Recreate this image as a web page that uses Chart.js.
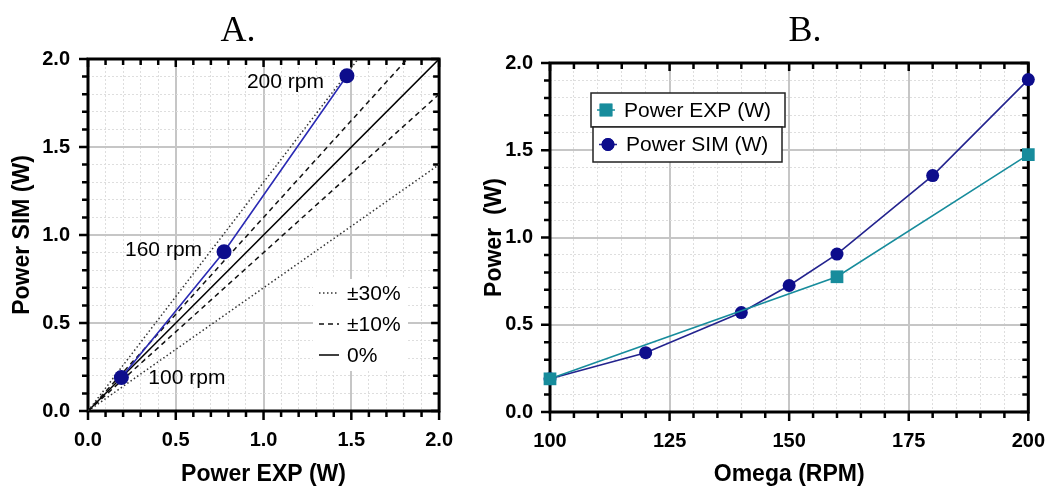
<!DOCTYPE html>
<html>
<head>
<meta charset="utf-8">
<script src="https://cdn.jsdelivr.net/npm/chart.js@4.4.0/dist/chart.umd.min.js"></script>
<style>
  body { margin: 0; background: #fff; overflow: hidden; }
  #wrap { position: relative; width: 1046px; height: 486px; overflow: hidden; }
  #chartA { position: absolute; left: 0; top: 0; }
  #chartB { position: absolute; left: 470px; top: 0; }
</style>
</head>
<body>
<div id="wrap">
  <canvas id="chartA" width="470" height="486"></canvas>
  <canvas id="chartB" width="592" height="486"></canvas>
</div>
<script>
// Data
const rpmExp = [100, 160, 200];
const powerExp = [0.19, 0.775, 1.475];
const rpmSim = [100, 120, 140, 150, 160, 180, 200];
const powerSim = [0.19, 0.34, 0.57, 0.725, 0.905, 1.355, 1.905];
const rpmLabels = ['100 rpm', '160 rpm', '200 rpm'];

// Reference lines in panel A: end points at x = 0 and x = 2
const refX = [0, 2];
const refPlus30 = [0, 2.6];
const refMinus30 = [0, 1.4];
const refPlus10 = [0, 2.2];
const refMinus10 = [0, 1.8];
const refZero = [0, 2];

const simBlue = '#0d0d8c';
const lineBlue = '#2a2ab4';
const expTeal = '#178c9c';

Chart.defaults.font.family = "'Liberation Sans', Arial, sans-serif";
Chart.defaults.color = '#000';

const isMajor = (v, step) => Math.abs(v / step - Math.round(v / step)) < 1e-6;
const toPts = (xs, ys) => xs.map((x, i) => ({ x: x, y: ys[i] }));

function gridOpts(step) {
  return {
    drawTicks: false,
    color: c => (c.tick && isMajor(c.tick.value, step)) ? '#c6c6c6' : '#dedede',
    lineWidth: c => (c.tick && isMajor(c.tick.value, step)) ? 2 : 1
  };
}
function borderOpts(step) {
  return { display: false, dash: c => (c.tick && isMajor(c.tick.value, step)) ? [] : [2, 2] };
}

// Frame + tick marks (inward on top/right, outward on bottom/left)
const framePlugin = {
  id: 'frame',
  beforeDatasetsDraw(chart, args, opts) {
    const { ctx, chartArea: a, scales: { x, y } } = chart;
    ctx.save();
    ctx.strokeStyle = '#000';
    ctx.lineWidth = 2.5;
    ctx.beginPath();
    x.ticks.forEach(t => {
      const px = x.getPixelForValue(t.value);
      const big = isMajor(t.value, opts.xMajor);
      ctx.moveTo(px, a.bottom); ctx.lineTo(px, a.bottom + (big ? 9 : 6));
      ctx.moveTo(px, a.top); ctx.lineTo(px, a.top + (big ? 8 : 6));
    });
    y.ticks.forEach(t => {
      const py = y.getPixelForValue(t.value);
      const big = isMajor(t.value, opts.yMajor);
      ctx.moveTo(a.left, py); ctx.lineTo(a.left - (big ? 9 : 6), py);
      ctx.moveTo(a.right, py); ctx.lineTo(a.right - (big ? 8 : 6), py);
    });
    ctx.stroke();
    ctx.lineWidth = 3;
    ctx.strokeRect(a.left, a.top, a.right - a.left, a.bottom - a.top);
    ctx.restore();
  }
};

// Panel letter above each plot
const panelTitlePlugin = {
  id: 'panelTitle',
  afterDraw(chart, args, opts) {
    const ctx = chart.ctx;
    ctx.save();
    ctx.font = "36px 'Liberation Serif', 'Times New Roman', serif";
    ctx.fillStyle = '#000';
    ctx.textAlign = 'center';
    ctx.textBaseline = 'alphabetic';
    ctx.fillText(opts.text, opts.x, 41);
    ctx.restore();
  }
};

// Panel A: rpm annotations + line-style legend
const panelAPlugin = {
  id: 'panelA',
  afterDatasetsDraw(chart) {
    const ctx = chart.ctx;
    const meta = chart.getDatasetMeta(0);
    ctx.save();
    ctx.fillStyle = '#000';
    ctx.font = "21px 'Liberation Sans', Arial, sans-serif";
    ctx.textBaseline = 'middle';
    const offs = [[27, 1, 'left'], [-22, -2, 'right'], [-23, 6, 'right']];
    meta.data.forEach((p, i) => {
      ctx.textAlign = offs[i][2];
      ctx.fillText(rpmLabels[i], p.x + offs[i][0], p.y + offs[i][1]);
    });

    // legend
    ctx.fillStyle = '#fff';
    ctx.fillRect(313, 279, 95, 92);
    const entries = chart.data.datasets.filter(d => d.legendEntry);
    entries.forEach((d, i) => {
      const yy = 293 + i * 31;
      ctx.strokeStyle = d.borderColor;
      ctx.lineWidth = d.borderWidth;
      ctx.setLineDash(d.borderDash || []);
      ctx.beginPath();
      ctx.moveTo(319, yy); ctx.lineTo(339, yy);
      ctx.stroke();
      ctx.setLineDash([]);
      ctx.fillStyle = '#000';
      ctx.textAlign = 'left';
      ctx.fillText(d.label, 347, yy + 1);
    });
    ctx.restore();
  }
};

// Panel B: boxed legend entries
const panelBPlugin = {
  id: 'panelB',
  afterDatasetsDraw(chart) {
    const ctx = chart.ctx;
    const boxes = [[121, 93, 194, 34], [123, 127, 189, 35]];
    ctx.save();
    chart.data.datasets.forEach((d, i) => {
      const b = boxes[i];
      ctx.fillStyle = '#fff';
      ctx.fillRect(b[0], b[1], b[2], b[3]);
      ctx.strokeStyle = '#222';
      ctx.lineWidth = 1.5;
      ctx.strokeRect(b[0], b[1], b[2], b[3]);
      const cx = b[0] + 15, cy = b[1] + b[3] / 2;
      ctx.strokeStyle = d.borderColor;
      ctx.lineWidth = 1.5;
      ctx.beginPath();
      ctx.moveTo(cx - 9, cy); ctx.lineTo(cx + 9, cy);
      ctx.stroke();
      ctx.fillStyle = d.pointBackgroundColor;
      Chart.helpers.drawPoint(ctx, { pointStyle: d.pointStyle, rotation: 0, radius: d.pointRadius, borderWidth: 0 }, cx, cy);
      ctx.fill();
      ctx.fillStyle = '#000';
      ctx.font = "21px 'Liberation Sans', Arial, sans-serif";
      ctx.textAlign = 'left';
      ctx.textBaseline = 'middle';
      ctx.fillText(d.label, b[0] + 33, cy + 1);
    });
    ctx.restore();
  }
};

const tickFont = { size: 20, weight: 'bold' };
const titleFont = { size: 23, weight: 'bold', lineHeight: 1 };

// ---------- Panel A ----------
const simVsExp = rpmExp.map((r, i) => ({ x: powerExp[i], y: powerSim[rpmSim.indexOf(r)] }));

new Chart(document.getElementById('chartA'), {
  type: 'scatter',
  data: {
    datasets: [
      {
        label: 'SIM vs EXP', data: simVsExp, showLine: true,
        borderColor: lineBlue, borderWidth: 1.6,
        pointRadius: 7.5, pointBackgroundColor: simBlue, pointBorderColor: simBlue, pointBorderWidth: 0,
        clip: false
      },
      { label: '±30%', legendEntry: true, data: toPts(refX, refPlus30), showLine: true, borderColor: '#333', borderWidth: 1.5, borderDash: [1.5, 2.5], pointRadius: 0 },
      { label: '±10%', legendEntry: true, data: toPts(refX, refPlus10), showLine: true, borderColor: '#111', borderWidth: 1.5, borderDash: [5, 4], pointRadius: 0 },
      { label: '0%', legendEntry: true, data: toPts(refX, refZero), showLine: true, borderColor: '#000', borderWidth: 1.5, pointRadius: 0 },
      { label: '-10%', data: toPts(refX, refMinus10), showLine: true, borderColor: '#111', borderWidth: 1.5, borderDash: [5, 4], pointRadius: 0 },
      { label: '-30%', data: toPts(refX, refMinus30), showLine: true, borderColor: '#333', borderWidth: 1.5, borderDash: [1.5, 2.5], pointRadius: 0 }
    ]
  },
  options: {
    responsive: false,
    animation: false,
    layout: { padding: { top: 59, right: 30, bottom: 0, left: 0 } },
    plugins: {
      legend: { display: false },
      tooltip: { enabled: false },
      frame: { xMajor: 0.5, yMajor: 0.5 },
      panelTitle: { text: 'A.', x: 238 }
    },
    scales: {
      x: {
        type: 'linear', min: 0, max: 2,
        afterFit: s => { s.height = 75; },
        ticks: { stepSize: 0.1, autoSkip: false, maxRotation: 0, padding: 17, font: tickFont,
          callback: v => isMajor(v, 0.5) ? v.toFixed(1) : '' },
        grid: gridOpts(0.5), border: borderOpts(0.5),
        title: { display: true, text: 'Power EXP (W)', font: titleFont, padding: { top: 0, bottom: 0 } }
      },
      y: {
        type: 'linear', min: 0, max: 2,
        afterFit: s => { s.width = 88; },
        ticks: { stepSize: 0.1, autoSkip: false, padding: 18, font: tickFont,
          callback: v => isMajor(v, 0.5) ? v.toFixed(1) : '' },
        grid: gridOpts(0.5), border: borderOpts(0.5),
        title: { display: true, text: 'Power SIM (W)', font: titleFont, padding: { top: 11, bottom: 0 } }
      }
    }
  },
  plugins: [framePlugin, panelTitlePlugin, panelAPlugin]
});

// ---------- Panel B ----------
new Chart(document.getElementById('chartB'), {
  type: 'scatter',
  data: {
    datasets: [
      {
        label: 'Power EXP (W)', data: toPts(rpmExp, powerExp), showLine: true,
        borderColor: expTeal, borderWidth: 1.6, pointStyle: 'rect',
        pointRadius: 9, pointBackgroundColor: expTeal, pointBorderColor: expTeal, pointBorderWidth: 0,
        clip: false
      },
      {
        label: 'Power SIM (W)', data: toPts(rpmSim, powerSim), showLine: true,
        borderColor: '#23238e', borderWidth: 1.6, pointStyle: 'circle',
        pointRadius: 6.5, pointBackgroundColor: simBlue, pointBorderColor: simBlue, pointBorderWidth: 0,
        clip: false
      }
    ]
  },
  options: {
    responsive: false,
    animation: false,
    layout: { padding: { top: 63, right: 3, bottom: 0, left: 0 } },
    plugins: {
      legend: { display: false },
      tooltip: { enabled: false },
      frame: { xMajor: 25, yMajor: 0.5 },
      panelTitle: { text: 'B.', x: 335 }
    },
    scales: {
      x: {
        type: 'linear', min: 100, max: 200,
        afterFit: s => { s.height = 74; },
        ticks: { stepSize: 5, autoSkip: false, maxRotation: 0, padding: 17, font: tickFont,
          callback: v => isMajor(v, 25) ? String(v) : '' },
        grid: gridOpts(25), border: borderOpts(25),
        title: { display: true, text: 'Omega (RPM)', font: titleFont, padding: { top: 0, bottom: 0 } }
      },
      y: {
        type: 'linear', min: 0, max: 2,
        afterFit: s => { s.width = 80; },
        ticks: { stepSize: 0.1, autoSkip: false, padding: 17, font: tickFont,
          callback: v => isMajor(v, 0.5) ? v.toFixed(1) : '' },
        grid: gridOpts(0.5), border: borderOpts(0.5),
        title: { display: true, text: 'Power  (W)', font: titleFont, padding: { top: 13, bottom: 0 } }
      }
    }
  },
  plugins: [framePlugin, panelTitlePlugin, panelBPlugin]
});
</script>
</body>
</html>
